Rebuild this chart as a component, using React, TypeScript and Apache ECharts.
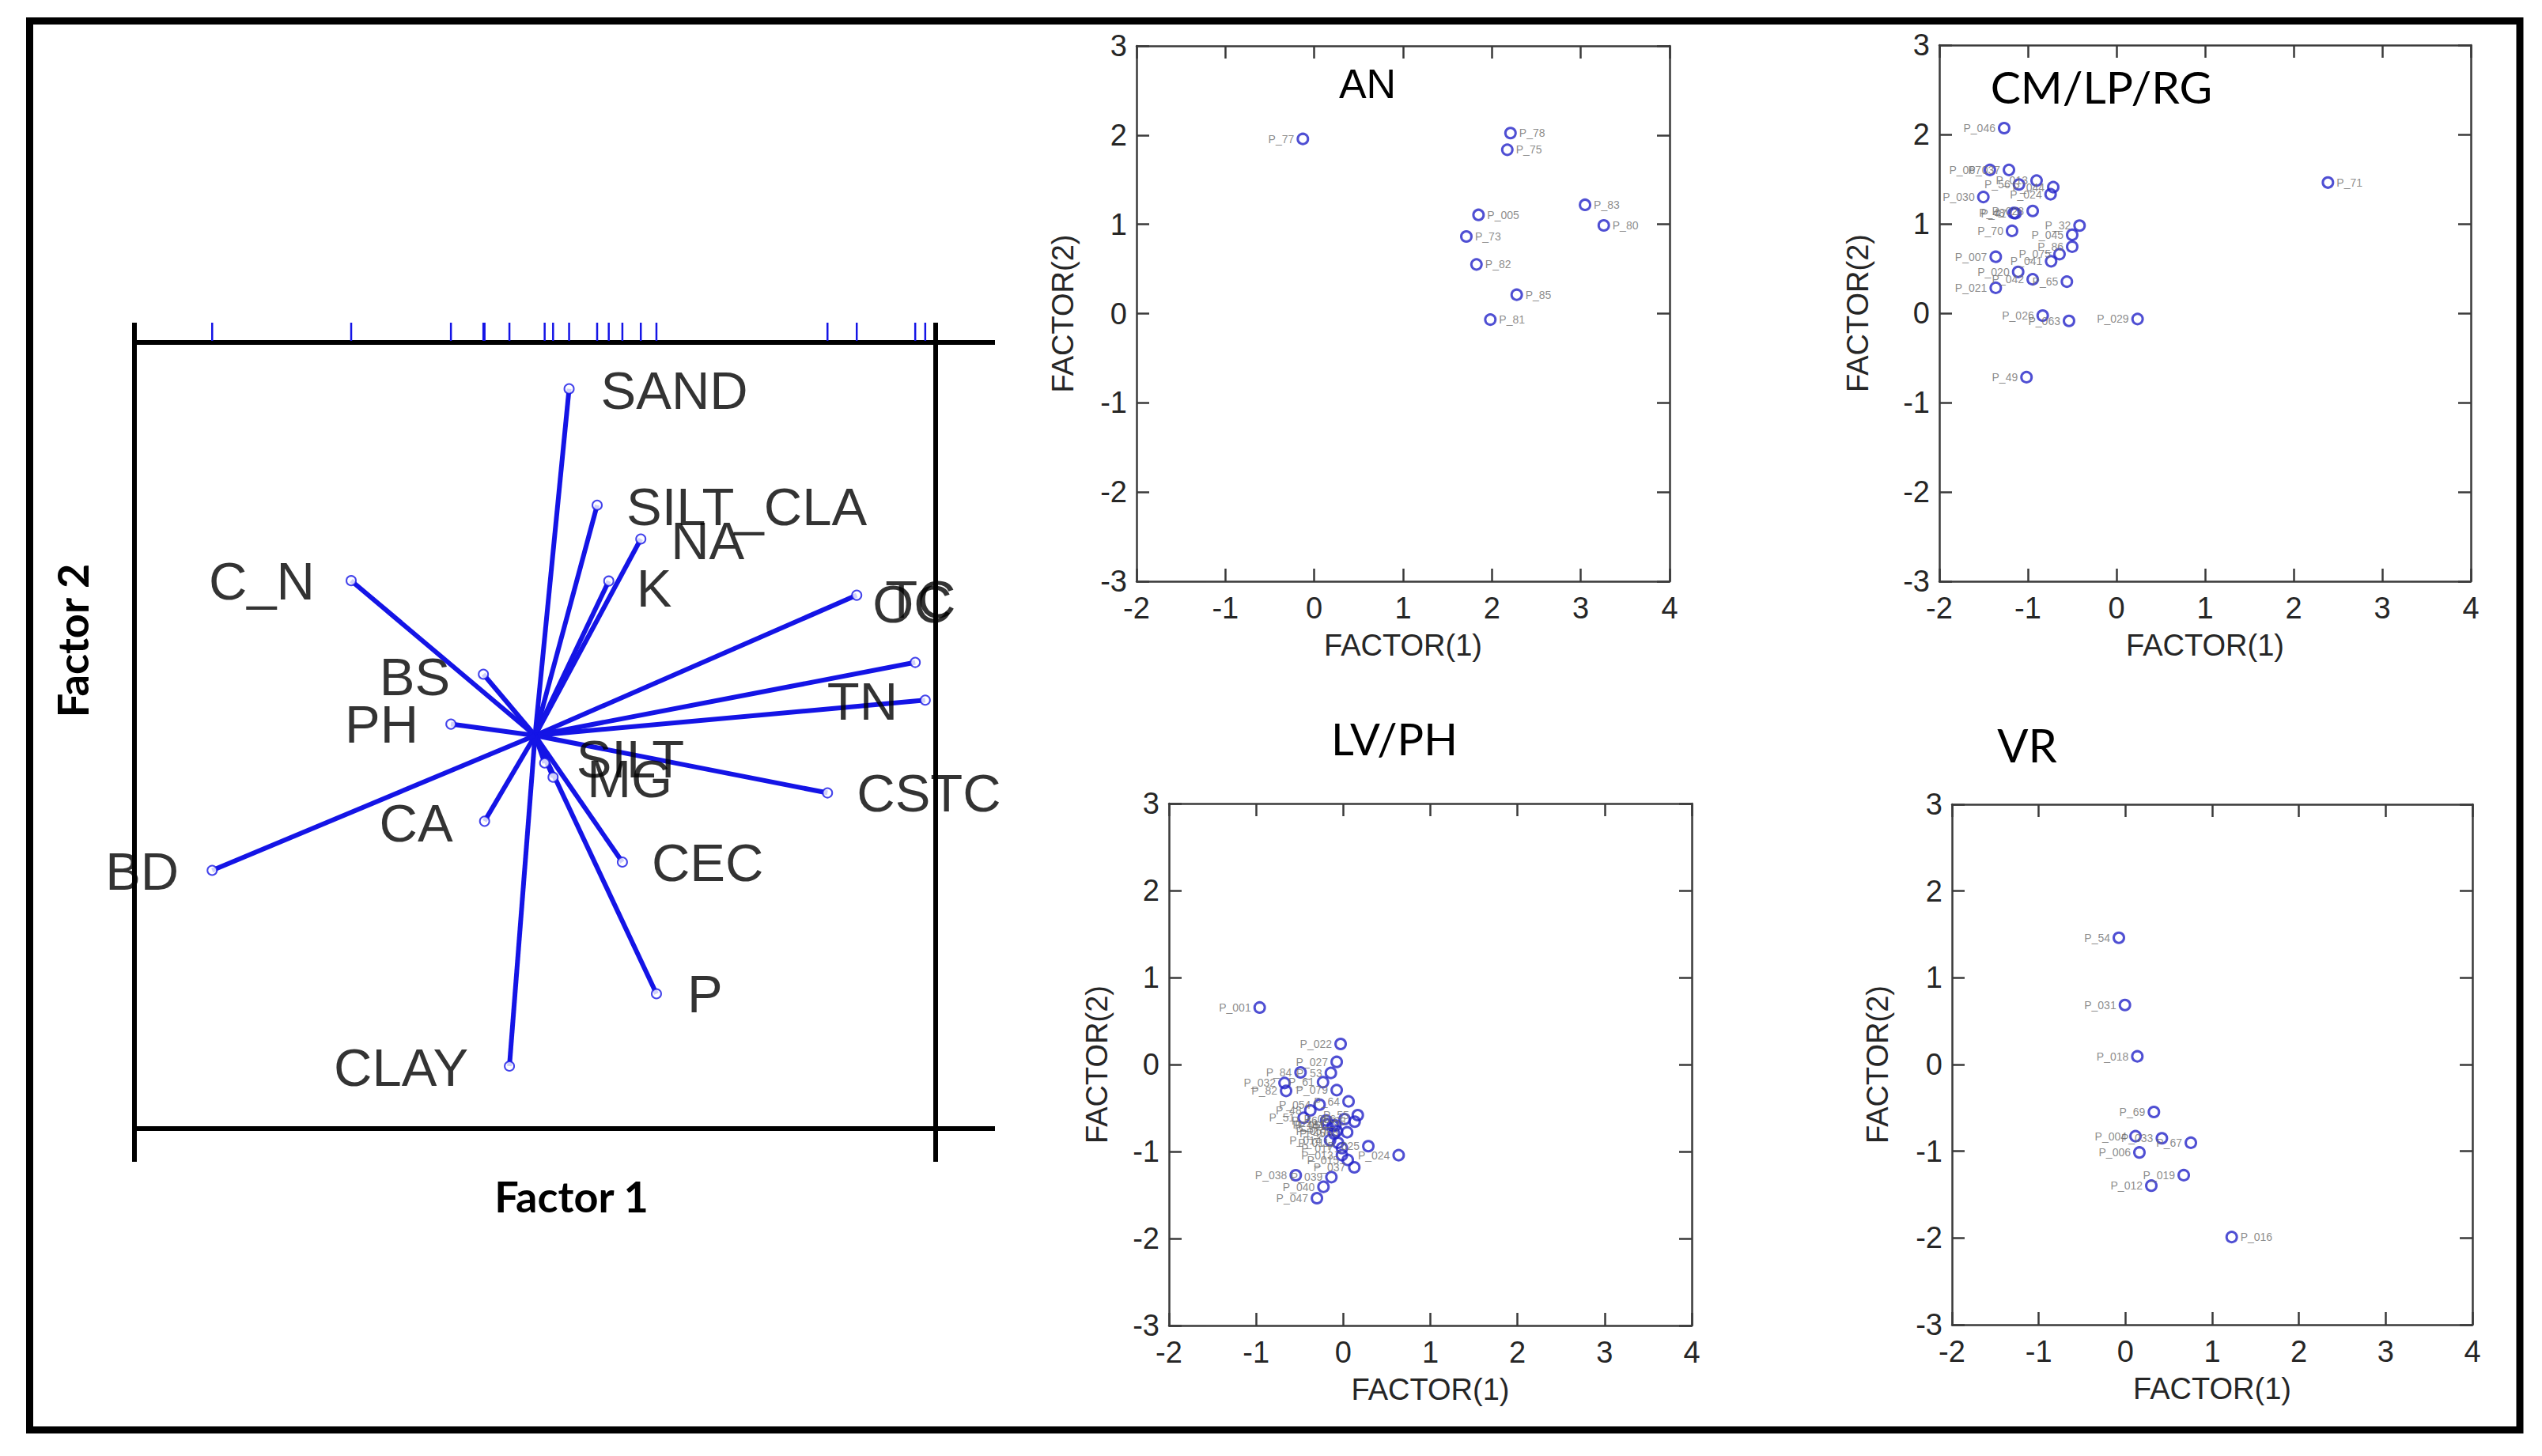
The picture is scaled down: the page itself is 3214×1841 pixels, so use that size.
import React, { useEffect, useRef } from "react";
import * as echarts from "echarts";

const W = 3214;
const H = 1841;
const BLUE = "#1414e6";
const PT_BLUE = "#2323c8";
const AXIS_GRAY = "#3a3a3a";

// ---------- Biplot (factor loadings) ----------
const variables = ["SAND", "SILT_CLA", "NA", "K", "C_N", "BS", "PH", "OC", "TC", "TN", "CSTC", "SILT", "MG", "CA", "CEC", "P", "CLAY", "BD"];
const loading1 = [0.085, 0.155, 0.264, 0.184, -0.459, -0.129, -0.21, 0.803, 0.949, 0.974, 0.73, 0.024, 0.045, -0.126, 0.218, 0.303, -0.064, -0.806];
const loading2 = [0.882, 0.586, 0.5, 0.393, 0.394, 0.156, 0.029, 0.357, 0.186, 0.09, -0.146, -0.07, -0.106, -0.218, -0.322, -0.657, -0.841, -0.343];

// label placement (pixel offset from the vector tip, text alignment)
const labelPlacement: Record<string, [number, number, string]> = {
  SAND: [40, 2, "left"],
  SILT_CLA: [37, 2, "left"],
  NA: [38, 2, "left"],
  K: [35, 9, "left"],
  C_N: [-46, 0, "right"],
  BS: [-42, 3, "right"],
  PH: [-41, 0, "right"],
  OC: [20, 11, "left"],
  TC: [-38, -80, "left"],
  TN: [-124, 1, "left"],
  CSTC: [37, 0, "left"],
  SILT: [40, -5, "left"],
  MG: [43, 2, "left"],
  CA: [-40, 2, "right"],
  CEC: [37, 0, "left"],
  P: [39, 0, "left"],
  CLAY: [-52, 2, "right"],
  BD: [-42, 1, "right"],
};

// ---------- Factor score panels ----------
const anNames = ["P_77", "P_78", "P_75", "P_83", "P_80", "P_005", "P_73", "P_82", "P_85", "P_81"];
const anF1 = [-0.128, 2.209, 2.173, 3.048, 3.259, 1.849, 1.712, 1.826, 2.279, 1.982];
const anF2 = [1.957, 2.023, 1.836, 1.219, 0.988, 1.106, 0.864, 0.551, 0.211, -0.067];

const cmNames = ["P_046", "P_067", "P_037", "P_013", "P_56", "P_044", "P_024", "P_030", "P_48", "P_47", "P_028", "P_70", "P_32", "P_045", "P_86", "P_007", "P_075", "P_041", "P_020", "P_042", "P_65", "P_021", "P_026", "P_063", "P_029", "P_49", "P_71"];
const cmF1 = [-1.268, -1.429, -1.214, -0.902, -1.101, -0.714, -0.744, -1.503, -1.161, -1.14, -0.946, -1.179, -0.417, -0.5, -0.5, -1.363, -0.643, -0.738, -1.11, -0.946, -0.56, -1.363, -0.833, -0.536, 0.238, -1.016, 2.387];
const cmF2 = [2.071, 1.603, 1.603, 1.484, 1.44, 1.411, 1.331, 1.3, 1.12, 1.118, 1.144, 0.921, 0.98, 0.877, 0.744, 0.631, 0.661, 0.581, 0.462, 0.379, 0.353, 0.284, -0.027, -0.086, -0.065, -0.716, 1.462];

const lvNames = ["P_001", "P_022", "P_027", "P_84", "P_53", "P_032", "P_61", "P_82", "P_079", "P_64", "P_054", "P_48", "P_51", "P_55", "P_58", "P_066", "P_43", "P_44", "P_057", "P_068", "P_014", "P_011", "P_017", "P_025", "P_024", "P_013", "P_015", "P_037", "P_038", "P_039", "P_040", "P_047", "P_45", "P_46", "P_056"];
const lvF1 = [-0.959, -0.03, -0.075, -0.49, -0.142, -0.674, -0.232, -0.656, -0.075, 0.061, -0.272, -0.378, -0.454, 0.167, 0.131, 0.015, -0.182, -0.121, -0.075, 0.045, -0.151, -0.06, -0.015, 0.288, 0.636, -0.015, 0.052, 0.127, -0.545, -0.136, -0.227, -0.302, -0.105, -0.196, -0.09];
const lvF2 = [0.655, 0.236, 0.03, -0.091, -0.097, -0.212, -0.203, -0.303, -0.294, -0.424, -0.461, -0.527, -0.612, -0.582, -0.657, -0.627, -0.688, -0.703, -0.764, -0.779, -0.87, -0.9, -0.961, -0.939, -1.042, -1.042, -1.097, -1.182, -1.273, -1.294, -1.406, -1.536, -0.794, -0.643, -0.7];

const vrNames = ["P_54", "P_031", "P_018", "P_69", "P_004", "P_033", "P_67", "P_006", "P_019", "P_012", "P_016"];
const vrF1 = [-0.076, -0.006, 0.137, 0.328, 0.116, 0.42, 0.754, 0.161, 0.672, 0.298, 1.225];
const vrF2 = [1.461, 0.686, 0.094, -0.547, -0.826, -0.85, -0.902, -1.014, -1.276, -1.397, -1.989];

const xTicksMin = -2;
const xTicksMax = 4;
const yTicksMin = -3;
const yTicksMax = 3;

const panels = [
  { title: "AN", names: anNames, f1: anF1, f2: anF2, grid: { left: 1437, top: 58, width: 674, height: 677 }, yGap: 74, titlePos: [1729, 106], titleFont: "Liberation Sans", titleSize: 52 },
  { title: "CM/LP/RG", names: cmNames, f1: cmF1, f2: cmF2, grid: { left: 2452, top: 57, width: 672, height: 678 }, yGap: 84, titlePos: [2657, 109], titleFont: "Lato", titleSize: 57 },
  { title: "LV/PH", names: lvNames, f1: lvF1, f2: lvF2, grid: { left: 1478, top: 1016, width: 661, height: 660 }, yGap: 72, titlePos: [1763, 933], titleFont: "Lato", titleSize: 56 },
  { title: "VR", names: vrNames, f1: vrF1, f2: vrF2, grid: { left: 2468, top: 1017, width: 658, height: 658 }, yGap: 75, titlePos: [2563, 941], titleFont: "Lato", titleSize: 58 },
];

function buildOption() {
  const grids: any[] = [{ left: 170, top: 433, width: 1013, height: 994 }];
  const xAxes: any[] = [];
  const yAxes: any[] = [];
  const series: any[] = [];
  const graphics: any[] = [];

  const frameLine = { onZero: false, lineStyle: { color: "#000", width: 6 } };
  xAxes.push({
    gridIndex: 0, type: "value", min: -1, max: 1, axisLine: frameLine, axisTick: { show: false }, axisLabel: { show: false }, splitLine: { show: false },
    name: "Factor 1", nameLocation: "middle", nameGap: 58,
    nameTextStyle: { fontFamily: "Lato", fontWeight: "bold", fontSize: 54, color: "#000", padding: [0, 0, 0, 92] },
  });
  xAxes.push({ gridIndex: 0, type: "value", position: "top", min: -1, max: 1, axisLine: frameLine, axisTick: { show: false }, axisLabel: { show: false }, splitLine: { show: false } });
  yAxes.push({
    gridIndex: 0, type: "value", min: -1, max: 1, axisLine: frameLine, axisTick: { show: false }, axisLabel: { show: false }, splitLine: { show: false },
    name: "Factor 2", nameLocation: "middle", nameGap: 52,
    nameTextStyle: { fontFamily: "Lato", fontWeight: "bold", fontSize: 54, color: "#000", padding: [0, 0, 0, 240] },
  });
  yAxes.push({ gridIndex: 0, type: "value", position: "right", min: -1, max: 1, axisLine: frameLine, axisTick: { show: false }, axisLabel: { show: false }, splitLine: { show: false } });

  // vectors
  series.push({
    type: "lines", coordinateSystem: "cartesian2d", xAxisIndex: 0, yAxisIndex: 0, silent: true, z: 2,
    lineStyle: { color: BLUE, width: 6, opacity: 1 },
    data: variables.map((v, i) => ({ name: v, coords: [[0, 0], [loading1[i], loading2[i]]] })),
  });
  // tips
  series.push({
    type: "scatter", xAxisIndex: 0, yAxisIndex: 0, symbol: "circle", symbolSize: 12, z: 3, silent: true,
    itemStyle: { color: "#ffffff", borderColor: BLUE, borderWidth: 2 },
    data: variables.map((v, i) => [loading1[i], loading2[i]]),
  });
  // labels
  series.push({
    type: "scatter", xAxisIndex: 0, yAxisIndex: 0, symbolSize: 1, z: 4, silent: true,
    itemStyle: { color: "rgba(255,255,255,0)" },
    label: { show: true, position: "inside", verticalAlign: "middle", fontFamily: "Liberation Sans", fontSize: 67, color: "#000", formatter: "{b}" },
    data: variables.map((v, i) => ({
      name: v,
      value: [loading1[i], loading2[i]],
      label: { align: labelPlacement[v][2], offset: [labelPlacement[v][0], labelPlacement[v][1]] },
    })),
  });
  // rug ticks on top
  series.push({
    type: "custom", xAxisIndex: 0, yAxisIndex: 0, clip: false, silent: true, z: 3,
    renderItem: (params: any, api: any) => {
      const p = api.coord([api.value(0), 1]);
      return { type: "line", shape: { x1: p[0], y1: p[1] - 25, x2: p[0], y2: p[1] - 2 }, style: { stroke: BLUE, lineWidth: 2.5 } };
    },
    data: loading1.map((x) => [x, 1]),
  });

  // frame extensions of the biplot
  const ext = (x1: number, y1: number, x2: number, y2: number) => ({ type: "line", shape: { x1, y1, x2, y2 }, style: { stroke: "#000", lineWidth: 6 }, silent: true });
  graphics.push(ext(1183, 433, 1258, 433), ext(1183, 1427, 1258, 1427));
  graphics.push(ext(170, 408, 170, 433), ext(170, 1427, 170, 1469));
  graphics.push(ext(1183, 408, 1183, 433), ext(1183, 1427, 1183, 1469));

  // panels
  panels.forEach((p, k) => {
    const gi = k + 1;
    grids.push(p.grid);
    const line = { onZero: false, lineStyle: { color: AXIS_GRAY, width: 2.5 } };
    const tick = { inside: true, length: 16, lineStyle: { color: AXIS_GRAY, width: 2.5 } };
    const lab = { fontFamily: "Liberation Sans", fontSize: 38, color: "#262626" };
    xAxes.push({
      gridIndex: gi, type: "value", min: xTicksMin, max: xTicksMax, interval: 1, axisLine: line, axisTick: tick, splitLine: { show: false },
      axisLabel: { ...lab, margin: 15 },
      name: "FACTOR(1)", nameLocation: "middle", nameGap: 62, nameTextStyle: { ...lab, fontSize: 38 },
    });
    xAxes.push({ gridIndex: gi, type: "value", position: "top", min: xTicksMin, max: xTicksMax, interval: 1, axisLine: line, axisTick: tick, splitLine: { show: false }, axisLabel: { show: false } });
    yAxes.push({
      gridIndex: gi, type: "value", min: yTicksMin, max: yTicksMax, interval: 1, axisLine: line, axisTick: tick, splitLine: { show: false },
      axisLabel: { ...lab, margin: 12 },
      name: "FACTOR(2)", nameLocation: "middle", nameGap: p.yGap, nameTextStyle: { ...lab, fontSize: 38 },
    });
    yAxes.push({ gridIndex: gi, type: "value", position: "right", min: yTicksMin, max: yTicksMax, interval: 1, axisLine: line, axisTick: tick, splitLine: { show: false }, axisLabel: { show: false } });

    const ax = 2 + 2 * k;
    series.push({
      type: "scatter", xAxisIndex: ax, yAxisIndex: ax, symbol: "circle", symbolSize: 13, silent: true, z: 3,
      itemStyle: { color: "rgba(255,255,255,0)", borderColor: PT_BLUE, borderWidth: 3 },
      label: { show: true, formatter: "{b}", fontFamily: "Liberation Sans", fontSize: 14, color: "#6e6e6e", distance: 3 },
      data: p.names.map((n, i) => ({ name: n, value: [p.f1[i], p.f2[i]], label: { position: p.f1[i] > 1 ? "right" : "left" } })),
    });

    graphics.push({
      type: "text", x: p.titlePos[0], y: p.titlePos[1], silent: true,
      style: { text: p.title, fontFamily: p.titleFont, fontSize: p.titleSize, fill: "#000", align: "center", verticalAlign: "middle" },
    });
  });

  // outer frame
  graphics.push({ type: "rect", shape: { x: 37.5, y: 26.5, width: 3148.5, height: 1781.5 }, style: { fill: "none", stroke: "#000", lineWidth: 9 }, silent: true, z: 100 });

  return {
    animation: false,
    backgroundColor: "#ffffff",
    grid: grids,
    xAxis: xAxes,
    yAxis: yAxes,
    series,
    graphic: graphics,
  };
}

export default function App() {
  const ref = useRef<HTMLDivElement>(null);
  useEffect(() => {
    if (!ref.current) return;
    const chart = echarts.init(ref.current, null, { renderer: "svg", width: W, height: H });
    chart.setOption(buildOption() as any);
    return () => chart.dispose();
  }, []);
  return <div ref={ref} style={{ position: "absolute", left: 0, top: 0, width: W, height: H, background: "#fff" }} />;
}
